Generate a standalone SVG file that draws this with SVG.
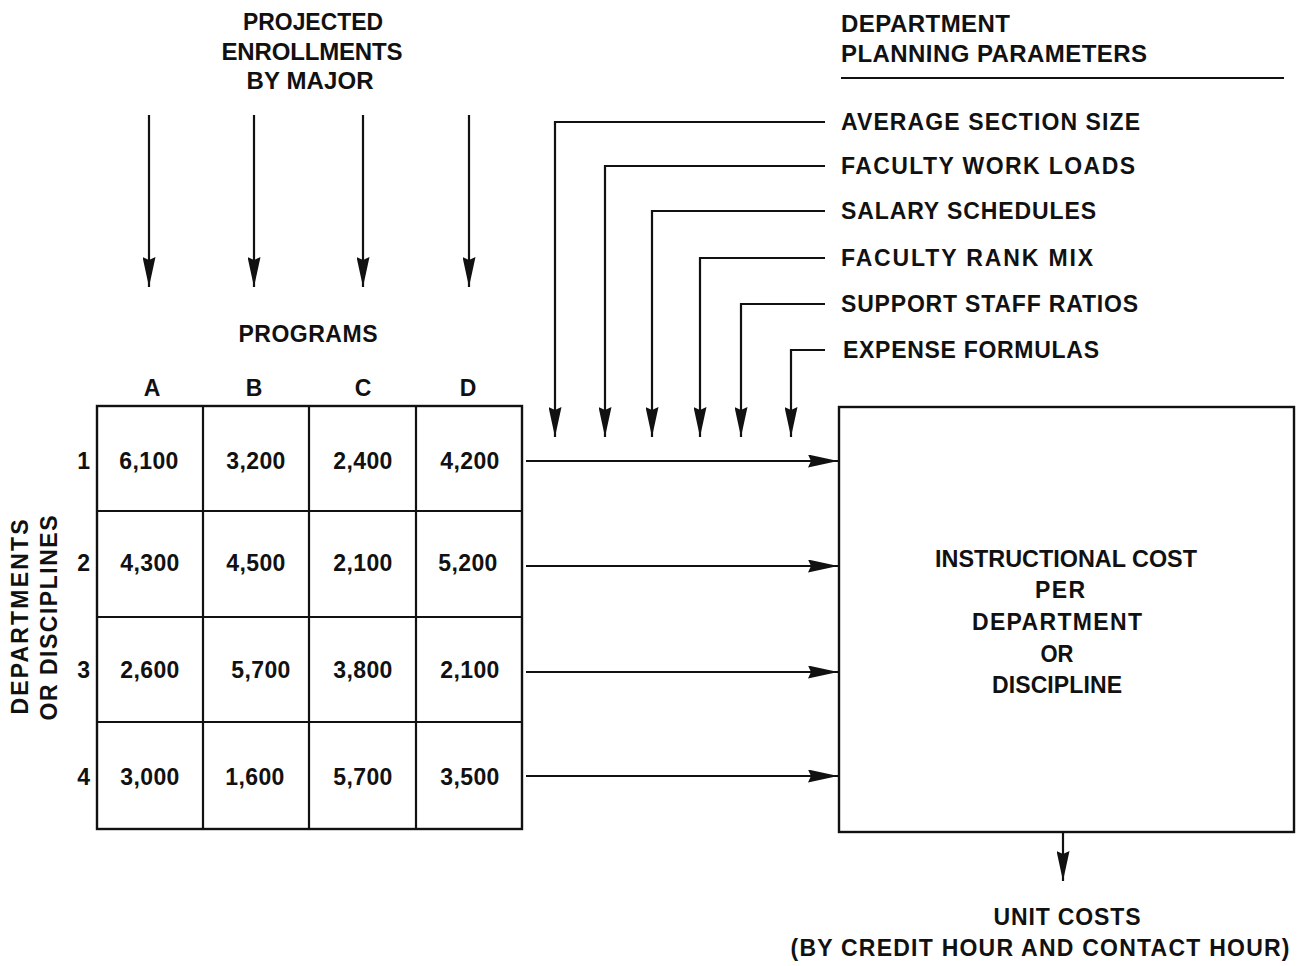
<svg xmlns="http://www.w3.org/2000/svg" width="1302" height="966" viewBox="0 0 1302 966">
  <style>
    text { font-family: "Liberation Sans", Arial, sans-serif; font-weight: bold; fill: #111; }
    .hd { font-size: 24px; }
    .lb { font-size: 23px; }
    .mid { text-anchor: middle; }
    .cell { font-size: 23px; text-anchor: middle; letter-spacing: 0.4px; }
    .ln { fill: none; stroke: #111; stroke-width: 2.2; }
    .box { fill: #fff; stroke: #111; stroke-width: 2.4; }
  </style>
  <defs>
    <marker id="head" viewBox="0 0 30 13" refX="30" refY="6.5" markerWidth="30" markerHeight="13" markerUnits="userSpaceOnUse" orient="auto">
      <path d="M0,0 L30,6.5 L0,13 L3,6.5 z" fill="#111"/>
    </marker>
  </defs>
  <rect width="1302" height="966" fill="#fff"/>

  <!-- heading: enrollments -->
  <g id="enrollments-title">
    <text class="hd mid" x="313" y="30" textLength="140" lengthAdjust="spacingAndGlyphs">PROJECTED</text>
    <text class="hd mid" x="312" y="60" textLength="181" lengthAdjust="spacing">ENROLLMENTS</text>
    <text class="hd mid" x="310" y="89" textLength="127" lengthAdjust="spacing">BY MAJOR</text>
  </g>

  <!-- heading: planning parameters -->
  <g id="parameters-title">
    <text class="hd" x="841" y="32" textLength="169" lengthAdjust="spacing">DEPARTMENT</text>
    <text class="hd" x="841" y="62" textLength="306" lengthAdjust="spacing">PLANNING PARAMETERS</text>
    <line class="ln" x1="841" y1="78" x2="1284" y2="78"/>
  </g>

  <!-- parameter labels -->
  <g id="param-section-size"><text class="lb" x="841" y="130" textLength="299" lengthAdjust="spacing">AVERAGE SECTION SIZE</text></g>
  <g id="param-work-loads"><text class="lb" x="841" y="174" textLength="294" lengthAdjust="spacing">FACULTY WORK LOADS</text></g>
  <g id="param-salary"><text class="lb" x="841" y="219" textLength="255" lengthAdjust="spacing">SALARY SCHEDULES</text></g>
  <g id="param-rank-mix"><text class="lb" x="841" y="266" textLength="252" lengthAdjust="spacing">FACULTY RANK MIX</text></g>
  <g id="param-staff-ratios"><text class="lb" x="841" y="312" textLength="297" lengthAdjust="spacing">SUPPORT STAFF RATIOS</text></g>
  <g id="param-expense"><text class="lb" x="843" y="358" textLength="256" lengthAdjust="spacing">EXPENSE FORMULAS</text></g>

  <!-- program / department matrix -->
  <g id="matrix">
    <text class="lb mid" x="308" y="342" textLength="139" lengthAdjust="spacing">PROGRAMS</text>
    <text class="lb mid" x="152" y="396">A</text>
    <text class="lb mid" x="254" y="396">B</text>
    <text class="lb mid" x="363" y="396">C</text>
    <text class="lb mid" x="468" y="396">D</text>

    <rect class="box" x="97" y="406" width="425" height="423"/>
    <line class="ln" x1="203" y1="406" x2="203" y2="829"/>
    <line class="ln" x1="309" y1="406" x2="309" y2="829"/>
    <line class="ln" x1="416" y1="406" x2="416" y2="829"/>
    <line class="ln" x1="97" y1="511" x2="522" y2="511"/>
    <line class="ln" x1="97" y1="617" x2="522" y2="617"/>
    <line class="ln" x1="97" y1="722" x2="522" y2="722"/>

    <text class="lb" x="90" y="469" text-anchor="end">1</text>
    <text class="lb" x="90" y="571" text-anchor="end">2</text>
    <text class="lb" x="90" y="678" text-anchor="end">3</text>
    <text class="lb" x="90" y="785" text-anchor="end">4</text>

    <text class="lb mid" transform="translate(28,617) rotate(-90)" textLength="195" lengthAdjust="spacing">DEPARTMENTS</text>
    <text class="lb mid" transform="translate(57,618) rotate(-90)" textLength="205" lengthAdjust="spacing">OR DISCIPLINES</text>

    <text class="cell" x="149" y="469">6,100</text>
    <text class="cell" x="256" y="469">3,200</text>
    <text class="cell" x="363" y="469">2,400</text>
    <text class="cell" x="470" y="469">4,200</text>

    <text class="cell" x="150" y="571">4,300</text>
    <text class="cell" x="256" y="571">4,500</text>
    <text class="cell" x="363" y="571">2,100</text>
    <text class="cell" x="468" y="571">5,200</text>

    <text class="cell" x="150" y="678">2,600</text>
    <text class="cell" x="261" y="678">5,700</text>
    <text class="cell" x="363" y="678">3,800</text>
    <text class="cell" x="470" y="678">2,100</text>

    <text class="cell" x="150" y="785">3,000</text>
    <text class="cell" x="255" y="785">1,600</text>
    <text class="cell" x="363" y="785">5,700</text>
    <text class="cell" x="470" y="785">3,500</text>
  </g>

  <!-- cost model box -->
  <g id="instructional-cost">
    <rect class="box" x="839" y="407" width="455" height="425"/>
    <text class="lb mid" x="1066" y="567" textLength="262" lengthAdjust="spacingAndGlyphs">INSTRUCTIONAL COST</text>
    <text class="lb mid" x="1060" y="598" textLength="50" lengthAdjust="spacing">PER</text>
    <text class="lb mid" x="1057" y="630" textLength="170" lengthAdjust="spacing">DEPARTMENT</text>
    <text class="lb mid" x="1057" y="662" textLength="33" lengthAdjust="spacingAndGlyphs">OR</text>
    <text class="lb mid" x="1057" y="693" textLength="130" lengthAdjust="spacing">DISCIPLINE</text>
  </g>

  <!-- resulting unit costs -->
  <g id="unit-costs">
    <text class="lb mid" x="1067" y="925" textLength="147" lengthAdjust="spacing">UNIT COSTS</text>
    <text class="lb mid" x="1040" y="956" textLength="499" lengthAdjust="spacing">(BY CREDIT HOUR AND CONTACT HOUR)</text>
  </g>

  <!-- connectors -->
  <g id="connectors" class="ln" marker-end="url(#head)">
    <line x1="149" y1="115" x2="149" y2="287"/>
    <line x1="254" y1="115" x2="254" y2="287"/>
    <line x1="363" y1="115" x2="363" y2="287"/>
    <line x1="469" y1="115" x2="469" y2="287"/>

    <polyline points="825,122 555,122 555,437"/>
    <polyline points="825,166 605,166 605,437"/>
    <polyline points="825,211 652,211 652,437"/>
    <polyline points="825,258 700,258 700,437"/>
    <polyline points="825,304 741,304 741,437"/>
    <polyline points="825,350 791,350 791,437"/>

    <line x1="526" y1="461" x2="838" y2="461"/>
    <line x1="526" y1="566" x2="838" y2="566"/>
    <line x1="526" y1="672" x2="838" y2="672"/>
    <line x1="526" y1="776" x2="838" y2="776"/>

    <line x1="1063" y1="832" x2="1063" y2="881"/>
  </g>
</svg>
